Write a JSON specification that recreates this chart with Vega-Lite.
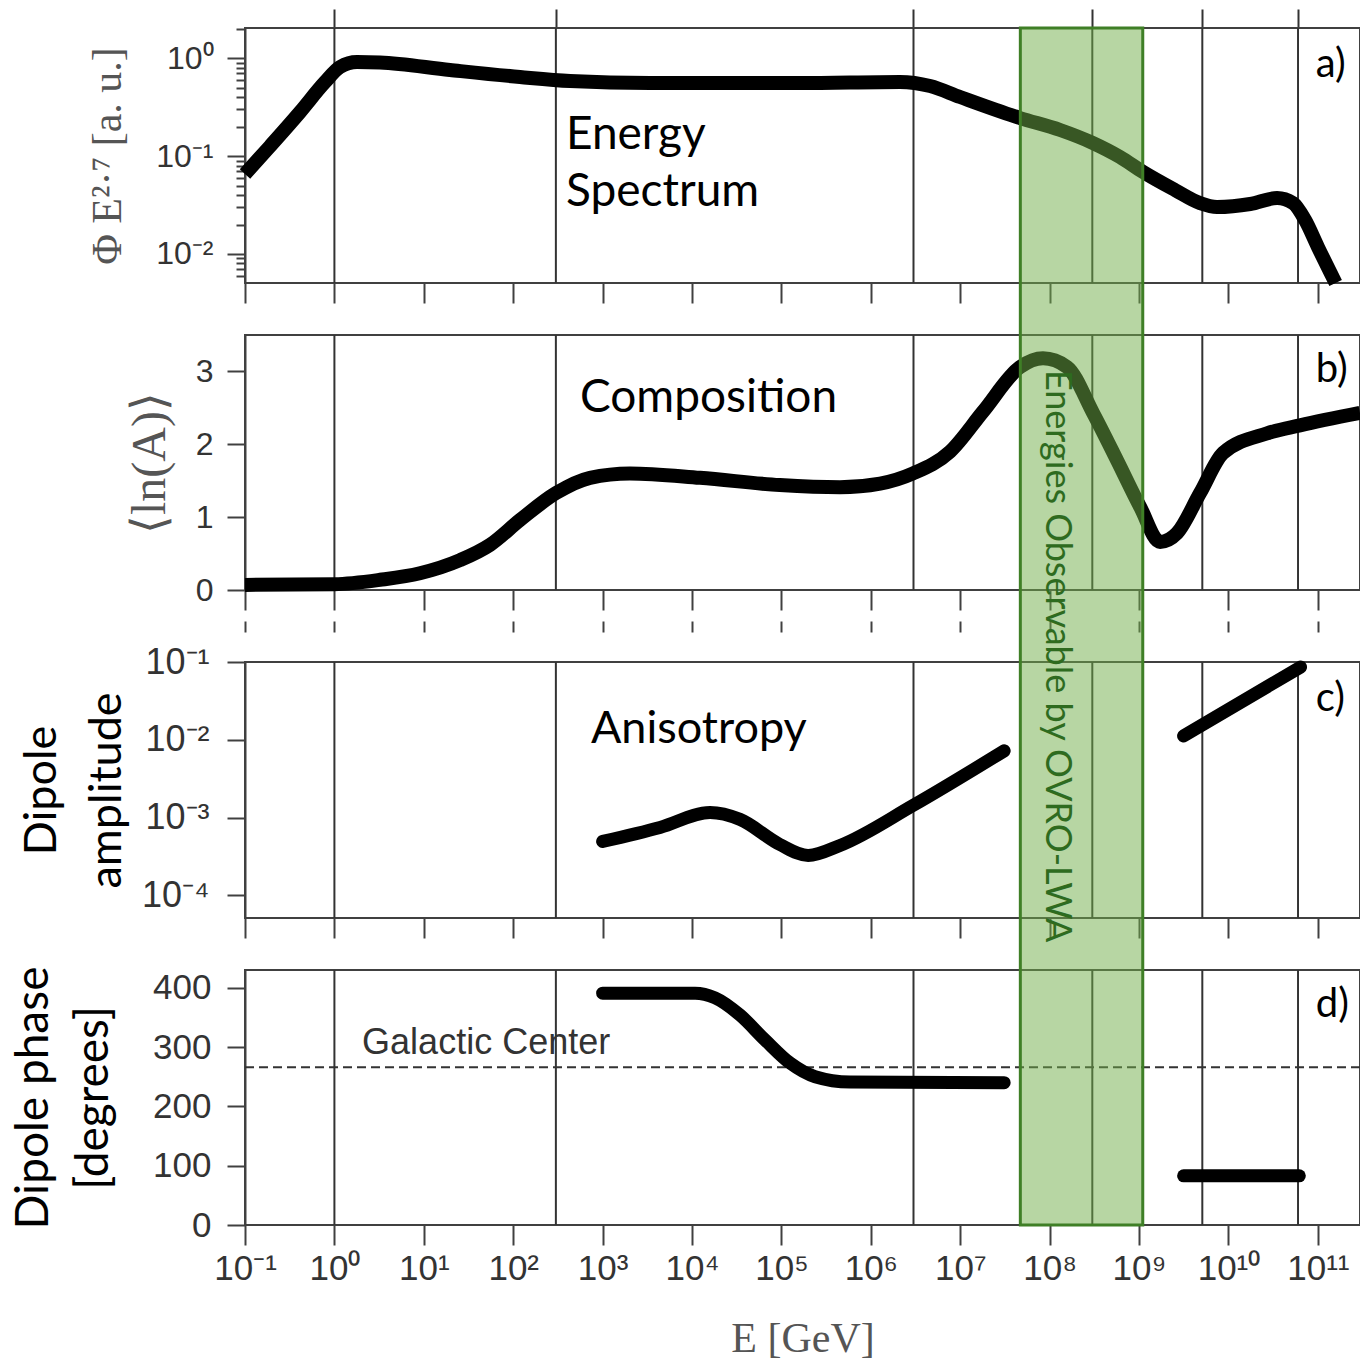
{
  "$schema": "https://vega.github.io/schema/vega-lite/v6.json",
  "width": 1115,
  "height": 1197,
  "autosize": {"type": "none"},
  "padding": {"left": 245, "top": 28, "right": 0, "bottom": 140},
  "background": "white",
  "config": {
    "view": {"stroke": null},
    "axis": {
      "grid": false,
      "tickColor": "#404040",
      "tickWidth": 2,
      "domainColor": "#404040",
      "domainWidth": 2,
      "labelFont": "Liberation Sans",
      "labelColor": "#333333",
      "labelOverlap": false,
      "labelFlush": false,
      "labelBound": false,
      "tickSize": 18
    },
    "text": {"font": "Lato"}
  },
  "datasets": {
    "spectrum": [
      {"E": 0.1, "flux": 0.0656}, {"E": 0.19, "flux": 0.126}, {"E": 0.412, "flux": 0.282},
      {"E": 0.785, "flux": 0.571}, {"E": 1.156, "flux": 0.815}, {"E": 1.79, "flux": 0.916},
      {"E": 3.24, "flux": 0.906}, {"E": 19.6, "flux": 0.759}, {"E": 119, "flux": 0.644},
      {"E": 432, "flux": 0.586}, {"E": 3390, "flux": 0.559}, {"E": 161000, "flux": 0.559},
      {"E": 2120000, "flux": 0.573}, {"E": 4600000, "flux": 0.521}, {"E": 9950000, "flux": 0.402},
      {"E": 46700000, "flux": 0.245}, {"E": 131000000, "flux": 0.185}, {"E": 306000000, "flux": 0.136},
      {"E": 612000000, "flux": 0.098}, {"E": 1110000000, "flux": 0.0688}, {"E": 2530000000, "flux": 0.045},
      {"E": 4810000000, "flux": 0.0331}, {"E": 7450000000, "flux": 0.0302}, {"E": 17500000000, "flux": 0.0324},
      {"E": 35000000000, "flux": 0.0373}, {"E": 52800000000, "flux": 0.0331}, {"E": 72000000000, "flux": 0.0222},
      {"E": 100000000000, "flux": 0.0118}, {"E": 158000000000, "flux": 0.00505}
    ],
    "composition": [
      {"E": 0.1, "lnA": 0.07}, {"E": 1, "lnA": 0.08}, {"E": 3.24, "lnA": 0.14}, {"E": 9.05, "lnA": 0.23},
      {"E": 25.4, "lnA": 0.41}, {"E": 55, "lnA": 0.62}, {"E": 119, "lnA": 0.96}, {"E": 301, "lnA": 1.33},
      {"E": 723, "lnA": 1.54}, {"E": 2020, "lnA": 1.6}, {"E": 12300, "lnA": 1.54}, {"E": 96000, "lnA": 1.44},
      {"E": 452000, "lnA": 1.41}, {"E": 1270000, "lnA": 1.46}, {"E": 2970000, "lnA": 1.6},
      {"E": 7700000, "lnA": 1.9}, {"E": 18000000, "lnA": 2.45}, {"E": 46700000, "lnA": 3.06},
      {"E": 84300000, "lnA": 3.18}, {"E": 157000000, "lnA": 3.06}, {"E": 306000000, "lnA": 2.43},
      {"E": 568000000, "lnA": 1.78}, {"E": 1030000000, "lnA": 1.14}, {"E": 1720000000, "lnA": 0.66},
      {"E": 2660000000, "lnA": 0.78}, {"E": 4810000000, "lnA": 1.33}, {"E": 8700000000, "lnA": 1.88},
      {"E": 27000000000, "lnA": 2.15}, {"E": 63100000000, "lnA": 2.26}, {"E": 296000000000, "lnA": 2.43}
    ],
    "amplitude": [
      {"E": 1000, "amp": 0.000492, "seg": 1}, {"E": 4385, "amp": 0.000745, "seg": 1},
      {"E": 15900, "amp": 0.00116, "seg": 1}, {"E": 34400, "amp": 0.000946, "seg": 1},
      {"E": 96000, "amp": 0.00045, "seg": 1}, {"E": 199000, "amp": 0.000325, "seg": 1},
      {"E": 452000, "amp": 0.000437, "seg": 1}, {"E": 2970000, "amp": 0.00143, "seg": 1},
      {"E": 31000000, "amp": 0.0072, "seg": 1},
      {"E": 3150000000, "amp": 0.0112, "seg": 2}, {"E": 64000000000, "amp": 0.086, "seg": 2}
    ],
    "phase": [
      {"E": 1000, "phase": 391, "seg": 1}, {"E": 10800, "phase": 391, "seg": 1},
      {"E": 18100, "phase": 383, "seg": 1}, {"E": 34400, "phase": 354, "seg": 1},
      {"E": 65600, "phase": 312, "seg": 1}, {"E": 125000, "phase": 273, "seg": 1},
      {"E": 238000, "phase": 250, "seg": 1}, {"E": 585000, "phase": 241, "seg": 1},
      {"E": 31000000, "phase": 240, "seg": 1},
      {"E": 3150000000, "phase": 83, "seg": 2}, {"E": 62000000000, "phase": 83, "seg": 2}
    ],
    "features": [
      {"E": 1}, {"E": 300}, {"E": 3000000}, {"E": 300000000}, {"E": 5100000000}, {"E": 60000000000}
    ],
    "band": [
      {"start": 47000000, "end": 1100000000, "label": "Energies Observable by  OVRO-LWA"}
    ],
    "frame": [{"panel": "frame"}]
  },
  "resolve": {
    "scale": {"x": "shared", "y": "independent"},
    "axis": {"x": "independent", "y": "independent"}
  },
  "layer": [
    {
      "data": {"name": "frame"},
      "mark": {"type": "rect", "fillOpacity": 0, "stroke": "#404040", "strokeWidth": 2},
      "encoding": {
        "x": {"datum": 0.1, "type": "quantitative",
          "scale": {"type": "log", "domain": [0.1, 296000000000], "nice": false},
          "axis": {"orient": "top", "values": [1, 300, 3000000, 300000000, 5100000000, 60000000000],
            "tickSize": 19, "labels": false, "domain": false, "title": null, "tickColor": "#333333"}},
        "x2": {"datum": 296000000000},
        "y": {"datum": 2.04, "type": "quantitative",
          "scale": {"type": "log", "domain": [0.00505, 2.04], "range": [255, 0], "nice": false},
          "axis": {"orient": "left", "values": [0.006, 0.007, 0.008, 0.009, 0.02, 0.03, 0.04, 0.05, 0.06, 0.07, 0.08, 0.09, 0.2, 0.3, 0.4, 0.5, 0.6, 0.7, 0.8, 0.9, 2],
            "tickSize": 9, "labels": false, "domain": false, "title": null}},
        "y2": {"datum": 0.00505}
      }
    },
    {
      "layer": [
        {
          "data": {"name": "features"},
          "mark": {"type": "rule", "stroke": "#333333", "strokeWidth": 2},
          "encoding": {
            "x": {"field": "E", "type": "quantitative",
              "scale": {"type": "log", "domain": [0.1, 296000000000], "nice": false},
              "axis": {"orient": "bottom", "offset": -942, "values": [0.1, 1, 10, 100, 1000, 10000, 100000, 1000000, 10000000, 100000000, 1000000000, 10000000000, 100000000000],
                "labels": false, "domain": false, "tickSize": 20, "title": null}},
            "y": {"datum": 2.04, "type": "quantitative",
              "scale": {"type": "log", "domain": [0.00505, 2.04], "range": [255, 0], "nice": false},
              "axis": {"orient": "left", "values": [0.01, 0.1, 1],
                "labelExpr": "'10' + ['⁻⁴','⁻³','⁻²','⁻¹','⁰','¹','²','³','⁴','⁵','⁶','⁷','⁸','⁹','¹⁰','¹¹'][round(log(datum.value)/LN10)+4]",
                "labelFontSize": 32, "labelPadding": 14,
                "title": "Φ E²·⁷ [a. u.]", "titleFont": "Liberation Serif", "titleFontSize": 42,
                "titleFontWeight": "normal", "titleColor": "#555555", "titleX": -138, "titleBaseline": "middle"}},
            "y2": {"datum": 0.00505}
          }
        },
        {
          "data": {"name": "spectrum"},
          "mark": {"type": "line", "color": "black", "strokeWidth": 14, "interpolate": "monotone"},
          "encoding": {
            "x": {"field": "E", "type": "quantitative", "scale": {"type": "log", "domain": [0.1, 296000000000], "nice": false}},
            "y": {"field": "flux", "type": "quantitative", "scale": {"type": "log", "domain": [0.00505, 2.04], "range": [255, 0], "nice": false}}
          }
        },
        {
          "data": {"name": "frame"},
          "mark": {"type": "text", "align": "left", "baseline": "middle", "fontSize": 46, "lineHeight": 57, "color": "black"},
          "encoding": {
            "x": {"datum": 389, "type": "quantitative", "scale": {"type": "log", "domain": [0.1, 296000000000], "nice": false}},
            "y": {"datum": 0.164, "type": "quantitative", "scale": {"type": "log", "domain": [0.00505, 2.04], "range": [255, 0], "nice": false}},
            "text": {"value": ["Energy", "Spectrum"]}
          }
        },
        {
          "data": {"name": "frame"},
          "mark": {"type": "text", "align": "left", "baseline": "middle", "fontSize": 40, "color": "black"},
          "encoding": {
            "x": {"datum": 95000000000, "type": "quantitative", "scale": {"type": "log", "domain": [0.1, 296000000000], "nice": false}},
            "y": {"datum": 0.855, "type": "quantitative", "scale": {"type": "log", "domain": [0.00505, 2.04], "range": [255, 0], "nice": false}},
            "text": {"value": "a)"}
          }
        }
      ]
    },
    {
      "layer": [
        {
          "data": {"name": "frame"},
          "mark": {"type": "rect", "fillOpacity": 0, "stroke": "#404040", "strokeWidth": 2},
          "encoding": {
            "x": {"datum": 0.1, "type": "quantitative",
              "scale": {"type": "log", "domain": [0.1, 296000000000], "nice": false},
              "axis": {"orient": "bottom", "offset": -635, "values": [0.1, 1, 10, 100, 1000, 10000, 100000, 1000000, 10000000, 100000000, 1000000000, 10000000000, 100000000000],
                "labels": false, "domain": false, "tickSize": 20, "title": null}},
            "x2": {"datum": 296000000000},
            "y": {"datum": 3.5, "type": "quantitative",
              "scale": {"type": "linear", "domain": [0, 3.5], "range": [562, 307], "nice": false, "zero": false},
              "axis": {"orient": "left", "values": [0, 1, 2, 3], "format": "d", "labelFontSize": 32, "labelPadding": 14,
                "title": "⟨ln(A)⟩", "titleFont": "Liberation Serif", "titleFontSize": 48,
                "titleFontWeight": "normal", "titleColor": "#555555", "titleX": -95, "titleBaseline": "middle"}},
            "y2": {"datum": 0}
          }
        },
        {
          "data": {"name": "features"},
          "mark": {"type": "rule", "stroke": "#333333", "strokeWidth": 2},
          "encoding": {
            "x": {"field": "E", "type": "quantitative", "scale": {"type": "log", "domain": [0.1, 296000000000], "nice": false}},
            "y": {"datum": 3.5, "type": "quantitative", "scale": {"type": "linear", "domain": [0, 3.5], "range": [562, 307], "nice": false, "zero": false}},
            "y2": {"datum": 0}
          }
        },
        {
          "data": {"name": "composition"},
          "mark": {"type": "line", "color": "black", "strokeWidth": 14, "interpolate": "monotone"},
          "encoding": {
            "x": {"field": "E", "type": "quantitative", "scale": {"type": "log", "domain": [0.1, 296000000000], "nice": false}},
            "y": {"field": "lnA", "type": "quantitative", "scale": {"type": "linear", "domain": [0, 3.5], "range": [562, 307], "nice": false, "zero": false}}
          }
        },
        {
          "data": {"name": "frame"},
          "mark": {"type": "text", "align": "left", "baseline": "middle", "fontSize": 46, "color": "black"},
          "encoding": {
            "x": {"datum": 558, "type": "quantitative", "scale": {"type": "log", "domain": [0.1, 296000000000], "nice": false}},
            "y": {"datum": 2.63, "type": "quantitative", "scale": {"type": "linear", "domain": [0, 3.5], "range": [562, 307], "nice": false, "zero": false}},
            "text": {"value": "Composition"}
          }
        },
        {
          "data": {"name": "frame"},
          "mark": {"type": "text", "align": "left", "baseline": "middle", "fontSize": 40, "color": "black"},
          "encoding": {
            "x": {"datum": 95000000000, "type": "quantitative", "scale": {"type": "log", "domain": [0.1, 296000000000], "nice": false}},
            "y": {"datum": 3.02, "type": "quantitative", "scale": {"type": "linear", "domain": [0, 3.5], "range": [562, 307], "nice": false, "zero": false}},
            "text": {"value": "b)"}
          }
        }
      ]
    },
    {
      "layer": [
        {
          "data": {"name": "frame"},
          "mark": {"type": "rect", "fillOpacity": 0, "stroke": "#404040", "strokeWidth": 2},
          "encoding": {
            "x": {"datum": 0.1, "type": "quantitative",
              "scale": {"type": "log", "domain": [0.1, 296000000000], "nice": false},
              "axis": {"orient": "bottom", "offset": -307, "values": [0.1, 1, 10, 100, 1000, 10000, 100000, 1000000, 10000000, 100000000, 1000000000, 10000000000, 100000000000],
                "labels": false, "domain": false, "tickSize": 20, "title": null}},
            "x2": {"datum": 296000000000},
            "y": {"datum": 0.1, "type": "quantitative",
              "scale": {"type": "log", "domain": [0.000051, 0.1], "range": [890, 634], "nice": false},
              "axis": {"orient": "left", "values": [0.0001, 0.001, 0.01, 0.1],
                "labelExpr": "'10' + ['⁻⁴','⁻³','⁻²','⁻¹','⁰','¹','²','³','⁴','⁵','⁶','⁷','⁸','⁹','¹⁰','¹¹'][round(log(datum.value)/LN10)+4]",
                "labelFontSize": 36, "labelPadding": 18,
                "title": ["Dipole", "amplitude"], "titleFont": "Lato", "titleFontSize": 45,
                "titleFontWeight": "normal", "titleColor": "black", "titleX": -204, "titleBaseline": "middle", "titleLineHeight": 65}},
            "y2": {"datum": 0.000051}
          }
        },
        {
          "data": {"name": "features"},
          "mark": {"type": "rule", "stroke": "#333333", "strokeWidth": 2},
          "encoding": {
            "x": {"field": "E", "type": "quantitative", "scale": {"type": "log", "domain": [0.1, 296000000000], "nice": false}},
            "y": {"datum": 0.1, "type": "quantitative", "scale": {"type": "log", "domain": [0.000051, 0.1], "range": [890, 634], "nice": false}},
            "y2": {"datum": 0.000051}
          }
        },
        {
          "data": {"name": "amplitude"},
          "mark": {"type": "line", "color": "black", "strokeWidth": 13, "interpolate": "monotone", "strokeCap": "round"},
          "encoding": {
            "x": {"field": "E", "type": "quantitative", "scale": {"type": "log", "domain": [0.1, 296000000000], "nice": false}},
            "y": {"field": "amp", "type": "quantitative", "scale": {"type": "log", "domain": [0.000051, 0.1], "range": [890, 634], "nice": false}},
            "detail": {"field": "seg", "type": "nominal"}
          }
        },
        {
          "data": {"name": "frame"},
          "mark": {"type": "text", "align": "left", "baseline": "middle", "fontSize": 45, "color": "black"},
          "encoding": {
            "x": {"datum": 741, "type": "quantitative", "scale": {"type": "log", "domain": [0.1, 296000000000], "nice": false}},
            "y": {"datum": 0.0136, "type": "quantitative", "scale": {"type": "log", "domain": [0.000051, 0.1], "range": [890, 634], "nice": false}},
            "text": {"value": "Anisotropy"}
          }
        },
        {
          "data": {"name": "frame"},
          "mark": {"type": "text", "align": "left", "baseline": "middle", "fontSize": 40, "color": "black"},
          "encoding": {
            "x": {"datum": 95000000000, "type": "quantitative", "scale": {"type": "log", "domain": [0.1, 296000000000], "nice": false}},
            "y": {"datum": 0.033, "type": "quantitative", "scale": {"type": "log", "domain": [0.000051, 0.1], "range": [890, 634], "nice": false}},
            "text": {"value": "c)"}
          }
        }
      ]
    },
    {
      "layer": [
        {
          "data": {"name": "frame"},
          "mark": {"type": "rect", "fillOpacity": 0, "stroke": "#404040", "strokeWidth": 2},
          "encoding": {
            "x": {"datum": 0.1, "type": "quantitative",
              "scale": {"type": "log", "domain": [0.1, 296000000000], "nice": false},
              "axis": {"orient": "bottom", "offset": 0, "values": [0.1, 1, 10, 100, 1000, 10000, 100000, 1000000, 10000000, 100000000, 1000000000, 10000000000, 100000000000],
                "labelExpr": "'10' + ['⁻⁴','⁻³','⁻²','⁻¹','⁰','¹','²','³','⁴','⁵','⁶','⁷','⁸','⁹','¹⁰','¹¹'][round(log(datum.value)/LN10)+4]",
                "labelFontSize": 35, "labelPadding": 6, "domain": false, "tickSize": 20,
                "title": "E [GeV]", "titleFont": "Liberation Serif", "titleFontSize": 42, "titleFontWeight": "normal",
                "titleColor": "#555555", "titleY": 113, "titleBaseline": "middle"}},
            "x2": {"datum": 296000000000},
            "y": {"datum": 430, "type": "quantitative",
              "scale": {"type": "linear", "domain": [0, 430], "range": [1197, 942], "nice": false, "zero": false},
              "axis": {"orient": "left", "values": [0, 100, 200, 300, 400], "labelFontSize": 35, "labelPadding": 16,
                "title": ["Dipole phase", "[degrees]"], "titleFont": "Lato", "titleFontSize": 46,
                "titleFontWeight": "normal", "titleColor": "black", "titleX": -212, "titleBaseline": "middle", "titleLineHeight": 60}},
            "y2": {"datum": 0}
          }
        },
        {
          "data": {"name": "features"},
          "mark": {"type": "rule", "stroke": "#333333", "strokeWidth": 2},
          "encoding": {
            "x": {"field": "E", "type": "quantitative", "scale": {"type": "log", "domain": [0.1, 296000000000], "nice": false}},
            "y": {"datum": 430, "type": "quantitative", "scale": {"type": "linear", "domain": [0, 430], "range": [1197, 942], "nice": false, "zero": false}},
            "y2": {"datum": 0}
          }
        },
        {
          "data": {"name": "frame"},
          "mark": {"type": "rule", "stroke": "#333333", "strokeWidth": 2, "strokeDash": [9, 5]},
          "encoding": {
            "y": {"datum": 266, "type": "quantitative", "scale": {"type": "linear", "domain": [0, 430], "range": [1197, 942], "nice": false, "zero": false}}
          }
        },
        {
          "data": {"name": "frame"},
          "mark": {"type": "text", "align": "left", "baseline": "bottom", "dy": -5, "font": "Liberation Sans", "fontSize": 36, "color": "#333333"},
          "encoding": {
            "x": {"datum": 2.04, "type": "quantitative", "scale": {"type": "log", "domain": [0.1, 296000000000], "nice": false}},
            "y": {"datum": 266, "type": "quantitative", "scale": {"type": "linear", "domain": [0, 430], "range": [1197, 942], "nice": false, "zero": false}},
            "text": {"value": "Galactic Center"}
          }
        },
        {
          "data": {"name": "phase"},
          "mark": {"type": "line", "color": "black", "strokeWidth": 13, "interpolate": "monotone", "strokeCap": "round"},
          "encoding": {
            "x": {"field": "E", "type": "quantitative", "scale": {"type": "log", "domain": [0.1, 296000000000], "nice": false}},
            "y": {"field": "phase", "type": "quantitative", "scale": {"type": "linear", "domain": [0, 430], "range": [1197, 942], "nice": false, "zero": false}},
            "detail": {"field": "seg", "type": "nominal"}
          }
        },
        {
          "data": {"name": "frame"},
          "mark": {"type": "text", "align": "left", "baseline": "middle", "fontSize": 40, "color": "black"},
          "encoding": {
            "x": {"datum": 95000000000, "type": "quantitative", "scale": {"type": "log", "domain": [0.1, 296000000000], "nice": false}},
            "y": {"datum": 371, "type": "quantitative", "scale": {"type": "linear", "domain": [0, 430], "range": [1197, 942], "nice": false, "zero": false}},
            "text": {"value": "d)"}
          }
        }
      ]
    },
    {
      "data": {"name": "band"},
      "mark": {"type": "rect", "fill": "#70AD47", "fillOpacity": 0.5, "stroke": "#3f7f26", "strokeWidth": 3},
      "encoding": {
        "x": {"field": "start", "type": "quantitative",
          "scale": {"type": "log", "domain": [0.1, 296000000000], "nice": false},
          "axis": {"orient": "bottom", "offset": -604, "values": [0.1, 1, 10, 100, 1000, 10000, 100000, 1000000, 10000000, 100000000, 1000000000, 10000000000, 100000000000],
            "labels": false, "domain": false, "tickSize": 11, "title": null}},
        "x2": {"field": "end"}
      }
    },
    {
      "data": {"name": "band"},
      "mark": {"type": "text", "angle": 90, "align": "left", "baseline": "middle", "fontSize": 36, "color": "#2e6b1f"},
      "encoding": {
        "x": {"datum": 121000000, "type": "quantitative", "scale": {"type": "log", "domain": [0.1, 296000000000], "nice": false}, "axis": null},
        "y": {"datum": 3.02, "type": "quantitative", "scale": {"type": "linear", "domain": [0, 3.5], "range": [562, 307], "nice": false, "zero": false}, "axis": null},
        "text": {"field": "label"}
      }
    }
  ]
}
